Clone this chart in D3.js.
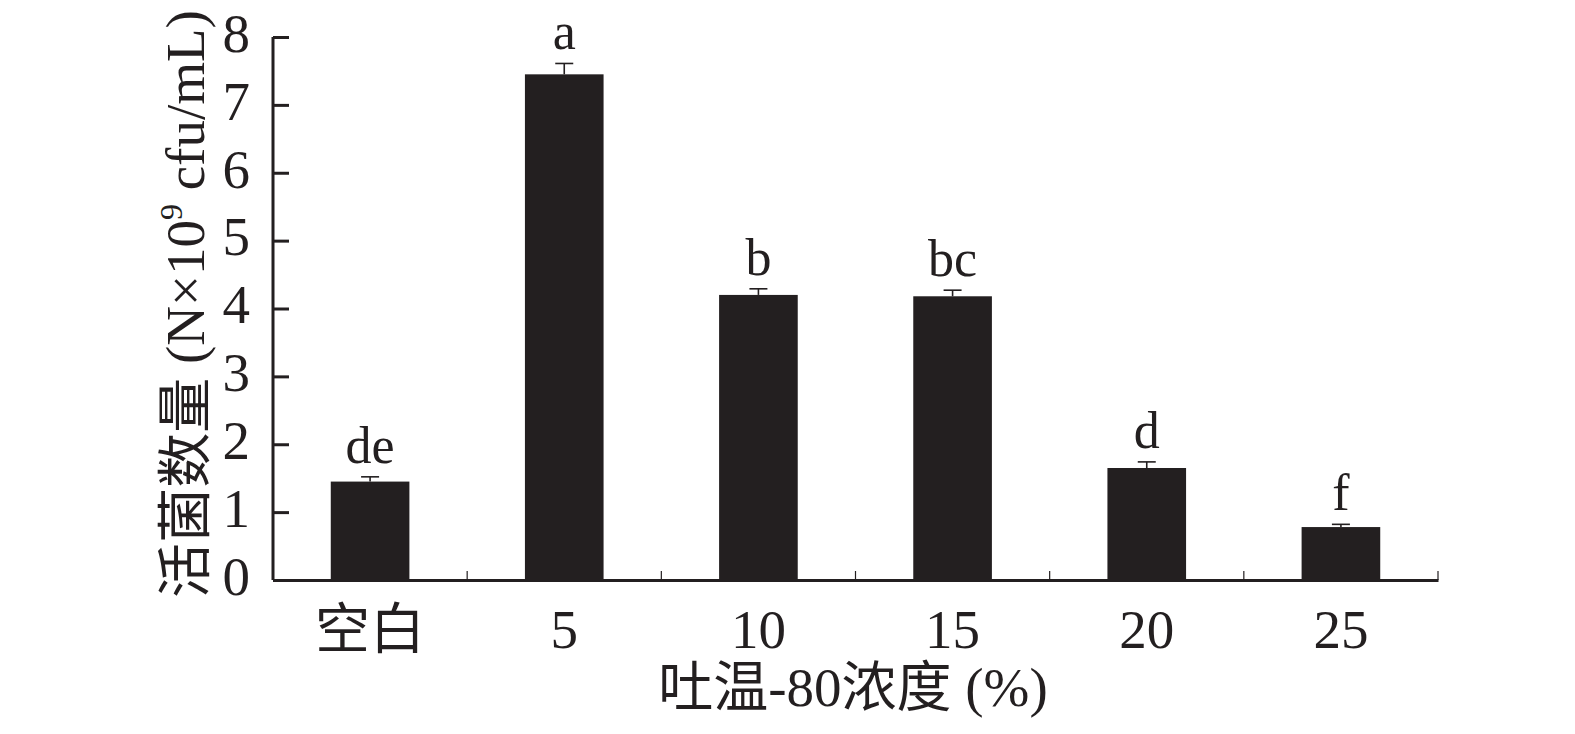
<!DOCTYPE html>
<html>
<head>
<meta charset="utf-8">
<script src="https://cdn.jsdelivr.net/npm/d3@7"></script>
<style>
  body { margin: 0; background: #fff; }
  svg text { font-family: "Liberation Serif", "Noto Sans CJK SC", serif; fill: #231f20; }
</style>
</head>
<body>
<svg id="chart" width="1575" height="734"></svg>
<script>
// bar chart: viable count vs Tween-80 concentration

const categories = ["空白", "5", "10", "15", "20", "25"];
const means = [1.45, 7.45, 4.20, 4.18, 1.65, 0.78];
const errors = [0.07, 0.16, 0.09, 0.09, 0.09, 0.04];
const letters = ["de", "a", "b", "bc", "d", "f"];
const yTicks = [0, 1, 2, 3, 4, 5, 6, 7, 8];

const ink = "#231f20";
const fs = 55;
const margin = { top: 37, right: 137, bottom: 154, left: 273 };
const width = 1575, height = 734;

let svg = d3.select("#chart");

let xScale = d3.scaleBand()
    .domain(categories)
    .range([margin.left, width - margin.right])
    .paddingInner(0)
    .paddingOuter(0);

let yScale = d3.scaleLinear()
    .domain([0, 8])
    .range([height - margin.bottom, margin.top]);

// bars
let barW = xScale.bandwidth() * 0.405;
svg.append("g")
    .selectAll("rect")
    .data(means)
    .join("rect")
    .attr("x", (d, i) => xScale(categories[i]) + xScale.bandwidth() / 2 - barW / 2)
    .attr("y", d => yScale(d))
    .attr("width", barW)
    .attr("height", d => yScale(0) - yScale(d))
    .attr("fill", ink);

// error bars (upper only)
let eb = svg.append("g").attr("stroke", ink).attr("stroke-width", 1.6);
means.forEach((m, i) => {
    let cx = xScale(categories[i]) + xScale.bandwidth() / 2;
    eb.append("line")
        .attr("x1", cx).attr("x2", cx)
        .attr("y1", yScale(m)).attr("y2", yScale(m + errors[i]));
    eb.append("line")
        .attr("x1", cx - 9).attr("x2", cx + 9)
        .attr("y1", yScale(m + errors[i])).attr("y2", yScale(m + errors[i]));
});

// significance letters
svg.append("g")
    .selectAll("text")
    .data(letters)
    .join("text")
    .attr("x", (d, i) => xScale(categories[i]) + xScale.bandwidth() / 2)
    .attr("y", (d, i) => yScale(means[i] + errors[i]) - 14)
    .attr("text-anchor", "middle")
    .attr("font-size", 52)
    .text(d => d);

// y axis, ticks pointing inward
let yAxis = svg.append("g")
    .attr("transform", "translate(" + margin.left + ",0)")
    .call(d3.axisLeft(yScale).tickValues(yTicks).tickSize(-16).tickPadding(23).tickFormat(d3.format("d")));
yAxis.select(".domain").attr("stroke", ink).attr("stroke-width", 3).attr("d",
    "M0," + yScale(8) + "V" + yScale(0));
yAxis.selectAll(".tick line").attr("stroke", ink).attr("stroke-width", 3);
yAxis.selectAll(".tick text")
    .attr("font-size", fs)
    .attr("dy", "0.26em")
    .style("font-family", "'Liberation Serif', serif")
    .style("fill", ink);

// x axis
let xAxis = svg.append("g")
    .attr("transform", "translate(0," + yScale(0) + ")")
    .call(d3.axisBottom(xScale).tickSize(0).tickPadding(29));
xAxis.select(".domain").attr("stroke", ink).attr("stroke-width", 3);
xAxis.selectAll(".tick text")
    .attr("font-size", fs)
    .style("font-family", "'Liberation Serif', 'Noto Sans CJK SC', serif")
    .style("fill", ink);

// small boundary ticks on x axis
let bounds = categories.slice(1).map(c => xScale(c)).concat([xScale.range()[1]]);
svg.append("g")
    .selectAll("line")
    .data(bounds)
    .join("line")
    .attr("x1", d => d).attr("x2", d => d)
    .attr("y1", yScale(0)).attr("y2", yScale(0) - 9)
    .attr("stroke", ink)
    .attr("stroke-width", 1.2);

// axis titles
let yt = svg.append("text")
    .attr("transform", "translate(204," + 304 + ") rotate(-90)")
    .attr("text-anchor", "middle")
    .attr("font-size", fs);
yt.append("tspan").text("活菌数量 (N×10");
yt.append("tspan").attr("font-size", 32).attr("dy", -22).text("9");
yt.append("tspan").attr("dy", 22).text(" cfu/mL)");

svg.append("text")
    .attr("x", 853)
    .attr("y", 706)
    .attr("text-anchor", "middle")
    .attr("font-size", fs)
    .text("吐温-80浓度 (%)");
</script>
</body>
</html>
